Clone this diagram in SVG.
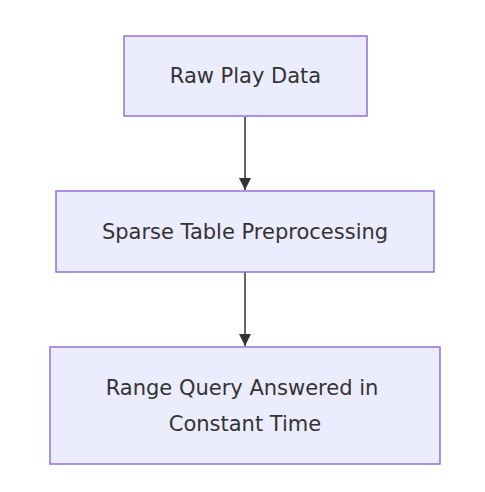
<svg xmlns="http://www.w3.org/2000/svg" width="485" height="492" viewBox="0 0 485 492">
<style>
.node rect{fill:#ECECFF;stroke:#9370DB;stroke-width:1.5}
.node text{font-family:"DejaVu Sans",sans-serif;font-size:21px;fill:#333;text-anchor:middle;dominant-baseline:central}
.edge{stroke:#333;stroke-width:1.5;fill:none}
</style>
<defs>
<marker id="arrow" viewBox="0 0 10 10" refX="10" refY="5" markerWidth="12" markerHeight="12" markerUnits="userSpaceOnUse" orient="auto">
<path d="M0,0 L10,5 L0,10 z" fill="#333"/>
</marker>
</defs>
<rect width="485" height="492" fill="#fff"/>
<g id="connectors">
<path class="edge" d="M245,117 L245,190" marker-end="url(#arrow)"/>
<path class="edge" d="M245,272 L245,346" marker-end="url(#arrow)"/>
</g>
<g id="raw" class="node">
<rect x="124" y="36" width="243" height="80"/>
<text x="245.5" y="76">Raw Play Data</text>
</g>
<g id="sparse" class="node">
<rect x="56" y="191" width="378" height="81"/>
<text x="245" y="232">Sparse Table Preprocessing</text>
</g>
<g id="range" class="node">
<rect x="50" y="347" width="390" height="117"/>
<text x="242" y="388">Range Query Answered in</text>
<text x="245" y="424">Constant Time</text>
</g>
</svg>
